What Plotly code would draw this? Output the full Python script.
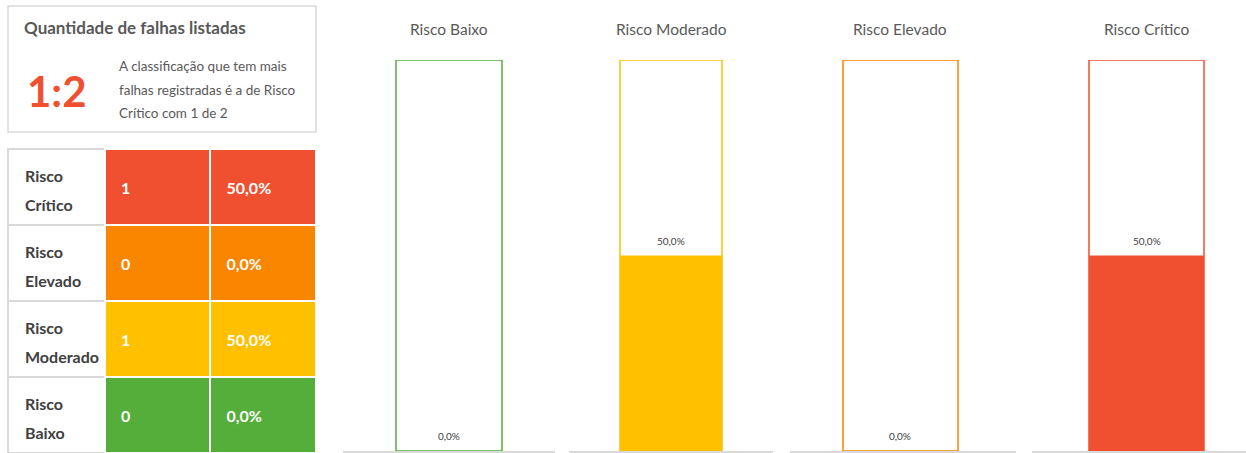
import plotly.graph_objects as go

W, H = 1246, 453
FONT = "Lato"

# ---- data -------------------------------------------------------------
categories = ["Risco Baixo", "Risco Moderado", "Risco Elevado", "Risco Crítico"]
category_shares = [0.0, 0.5, 0.0, 0.5]
category_colors = ["#55AE3A", "#FFC000", "#FA8600", "#F0502F"]

table_labels = [("Risco", "Crítico"), ("Risco", "Elevado"),
                ("Risco", "Moderado"), ("Risco", "Baixo")]
table_counts = [1, 0, 1, 0]
table_shares = [0.5, 0.0, 0.5, 0.0]
table_colors = ["#F0502F", "#FA8600", "#FFC000", "#55AE3A"]
total_failures = 2

card_title = "Quantidade de falhas listadas"
card_lines = ["A classificação que tem mais",
              "falhas registradas é a de Risco",
              "Crítico com 1 de 2"]

# ---- layout helpers (pixel -> paper) -----------------------------------
def px(x):
    return x / W


def py(y):
    return 1 - y / H


def pct(v):
    return f"{v * 100:.1f}%".replace(".", ",")


# panel geometry in pixels: (axis left, axis right, bar left, bar right)
panels = [(343, 555, 396, 502),
          (569, 773, 620, 722),
          (790, 1016, 843, 958),
          (1032, 1246, 1089, 1204)]
BAR_TOP, BASELINE = 60, 451

fig = go.Figure()
annotations = []
layout_axes = {}

for i, (cat, val, col) in enumerate(zip(categories, category_shares, category_colors)):
    sfx = "" if i == 0 else str(i + 1)
    xa, ya = f"x{sfx}", f"y{sfx}"
    d0, d1, b0, b1 = panels[i]
    barpx = b1 - b0
    lo = -0.5 - (b0 - d0) / barpx
    hi = lo + (d1 - d0) / barpx

    # full-scale outline (100%)
    fig.add_trace(go.Bar(
        x=[cat], y=[1.0], width=[1],
        marker=dict(color="white", line=dict(color=col, width=1.5)),
        xaxis=xa, yaxis=ya, hoverinfo="skip", showlegend=False))
    # filled share
    fig.add_trace(go.Bar(
        x=[cat], y=[val], width=[1],
        marker=dict(color=col, line=dict(width=0)),
        xaxis=xa, yaxis=ya, showlegend=False,
        hovertemplate="%{x}: %{y:.1%}<extra></extra>"))

    annotations.append(dict(
        x=cat, y=val, xref=xa, yref=ya, text=pct(val), showarrow=False,
        yanchor="bottom", yshift=7,
        font=dict(family=FONT, size=10, color="#404040")))
    annotations.append(dict(
        x=cat, y=py(29), xref=xa, yref="paper", text=cat, showarrow=False,
        yanchor="middle",
        font=dict(family=FONT, size=15.5, color="#595959")))

    layout_axes[f"xaxis{sfx}"] = dict(
        domain=[px(d0), px(d1)], range=[lo, hi], anchor=ya,
        showline=True, linecolor="#D9D9D9", linewidth=2,
        showticklabels=False, showgrid=False, zeroline=False, ticks="",
        fixedrange=True)
    layout_axes[f"yaxis{sfx}"] = dict(
        domain=[1 - BASELINE / H, 1 - BAR_TOP / H], range=[0, 1], anchor=xa,
        visible=False, fixedrange=True)

# ---- summary table ----------------------------------------------------
pad = "\u00a0\u00a0"
TABLE_TOP, ROW_H = 149, 76


def cell_value(v):
    # blank first line keeps the value near the middle of the tall row
    return f"{pad}<br>{pad}<b>{v}</b>"


fig.add_trace(go.Table(
    domain=dict(x=[px(8), px(316)], y=[0, py(TABLE_TOP)]),
    columnwidth=[97, 106, 106],
    header=dict(
        values=["", cell_value(table_counts[0]), cell_value(pct(table_shares[0]))],
        fill_color=["white", table_colors[0], table_colors[0]],
        font=dict(family=FONT, size=16, color="white"),
        line=dict(color=["#D9D9D9", "white", "white"], width=2),
        align="left", height=ROW_H),
    cells=dict(
        values=[[""] * 3,
                [cell_value(c) for c in table_counts[1:]],
                [cell_value(pct(s)) for s in table_shares[1:]]],
        fill_color=[["white"] * 3, table_colors[1:], table_colors[1:]],
        font=dict(family=FONT, size=16, color="white"),
        line=dict(color=["#D9D9D9", "white", "white"], width=2),
        align="left", height=ROW_H),
))

# row labels, two lines per row
for r, (l1, l2) in enumerate(table_labels):
    top = TABLE_TOP + ROW_H * r
    for dy, txt in ((26, l1), (55, l2)):
        annotations.append(dict(
            x=px(23), y=py(top + dy), xref="paper", yref="paper",
            text=f"<b>{txt}</b>", showarrow=False,
            xanchor="left", yanchor="middle",
            font=dict(family=FONT, size=16, color="#404040")))

# ---- headline card ----------------------------------------------------
top_idx = max(range(len(table_counts)), key=lambda k: table_counts[k])
headline = f"{table_counts[top_idx]}:{total_failures}"

shapes = [dict(type="rect", xref="paper", yref="paper",
               x0=px(8), x1=px(316), y0=py(132), y1=py(6),
               line=dict(color="#D9D9D9", width=1.5), fillcolor="white",
               layer="below")]

annotations.append(dict(
    x=px(22), y=py(28), xref="paper", yref="paper", text=f"<b>{card_title}</b>",
    showarrow=False, xanchor="left", yanchor="middle",
    font=dict(family=FONT, size=17, color="#595959")))
annotations.append(dict(
    x=px(57), y=py(91), xref="paper", yref="paper", text=f"<b>{headline}</b>",
    showarrow=False, xanchor="center", yanchor="middle",
    font=dict(family=FONT, size=42, color="#F0502F")))
for k, line in enumerate(card_lines):
    annotations.append(dict(
        x=px(117), y=py(66 + 23.5 * k), xref="paper", yref="paper", text=line,
        showarrow=False, xanchor="left", yanchor="middle",
        font=dict(family=FONT, size=13.5, color="#595959")))

fig.update_layout(
    width=W, height=H, margin=dict(l=0, r=0, t=0, b=0),
    paper_bgcolor="white", plot_bgcolor="white",
    barmode="overlay", showlegend=False,
    annotations=annotations, shapes=shapes,
    **layout_axes)

fig.write_html("out.html")
